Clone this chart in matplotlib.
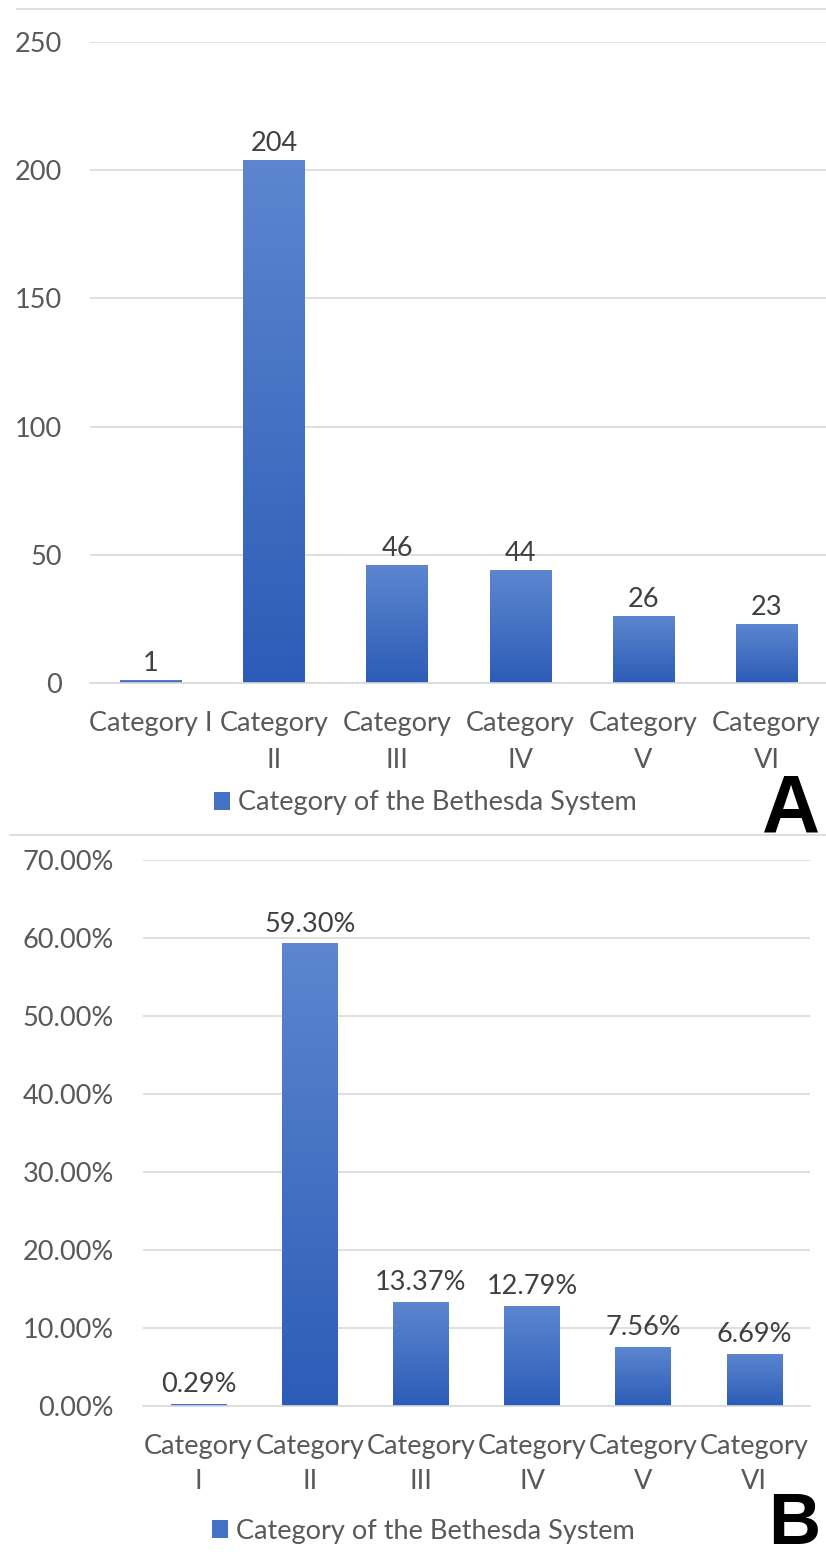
import matplotlib
matplotlib.use("Agg")
import matplotlib.pyplot as plt
import numpy as np
from matplotlib.colors import LinearSegmentedColormap
from matplotlib.patches import Patch
from matplotlib.lines import Line2D
from matplotlib.ticker import FuncFormatter, MultipleLocator

# ---------------- data ----------------
labels_a = ["Category I", "Category\nII", "Category\nIII", "Category\nIV", "Category\nV", "Category\nVI"]
labels_b = ["Category\nI", "Category\nII", "Category\nIII", "Category\nIV", "Category\nV", "Category\nVI"]
counts = [1, 204, 46, 44, 26, 23]
percents = [0.29, 59.30, 13.37, 12.79, 7.56, 6.69]
legend_label = "Category of the Bethesda System"
panel_letters = ["A", "B"]

# ---------------- style ----------------
FONT = ["Lato", "DejaVu Sans"]
plt.rcParams["font.family"] = FONT
TXT = "#595959"
VAL = "#404040"
GRID = "#D9D9D9"
TOP_C = "#5D86CF"
BOT_C = "#2C5CB7"
FS = 19.5
cmap = LinearSegmentedColormap.from_list("bar", [BOT_C, TOP_C])
grad = np.linspace(0, 1, 256).reshape(-1, 1)

W, H = 826, 1560
fig = plt.figure(figsize=(W / 100, H / 100), dpi=100)


def px_axes(x0, x1, ytop, ybot):
    return fig.add_axes([x0 / W, 1 - ybot / H, (x1 - x0) / W, (ybot - ytop) / H])


def gradient_bars(ax, bars):
    for rect in bars:
        x, w, h = rect.get_x(), rect.get_width(), rect.get_height()
        im = ax.imshow(grad, extent=(x, x + w, 0, h), origin="lower", aspect="auto",
                       cmap=cmap, zorder=rect.get_zorder() + 0.1, interpolation="bilinear")
        im.set_clip_path(rect)


def style_axes(ax, pad_y, pad_x, linesp):
    for s in ["top", "right", "left"]:
        ax.spines[s].set_visible(False)
    ax.spines["bottom"].set_color(GRID)
    ax.spines["bottom"].set_linewidth(1.2)
    ax.yaxis.grid(True, color=GRID, linewidth=1.2)
    ax.set_axisbelow(True)
    ax.tick_params(axis="both", length=0, labelsize=FS, labelcolor=TXT)
    ax.tick_params(axis="y", pad=pad_y)
    ax.tick_params(axis="x", pad=pad_x)
    for t in ax.get_xticklabels():
        t.set_linespacing(linesp)


x = np.arange(len(counts))

# ---------------- panel A ----------------
axA = px_axes(89.5, 828, 42, 683)
barsA = axA.bar(x, counts, width=0.5, color="#4472C4", edgecolor="none", zorder=2)
gradient_bars(axA, barsA)
axA.set_xlim(-0.5, 5.5)
axA.set_ylim(0, 250)
axA.yaxis.set_major_locator(MultipleLocator(50))
axA.set_xticks(x)
axA.set_xticklabels(labels_a)
style_axes(axA, 20, 20, 1.62)
axA.bar_label(barsA, labels=[str(v) for v in counts], padding=3, fontsize=FS, color=VAL)
axA.legend(handles=[Patch(facecolor="#4472C4", edgecolor="none")], labels=[legend_label],
           loc="center left", bbox_to_anchor=(214 / W, 1 - 803 / H), bbox_transform=fig.transFigure,
           frameon=False, fontsize=FS, labelcolor=TXT, borderpad=0, borderaxespad=0,
           handlelength=0.6, handleheight=0.6, handletextpad=0.3)

# ---------------- panel B ----------------
axB = px_axes(143, 810, 860, 1406)
barsB = axB.bar(x, percents, width=0.5, color="#4472C4", edgecolor="none", zorder=2)
gradient_bars(axB, barsB)
axB.set_xlim(-0.5, 5.5)
axB.set_ylim(0, 70)
axB.yaxis.set_major_locator(MultipleLocator(10))
axB.yaxis.set_major_formatter(FuncFormatter(lambda v, p: f"{v:.2f}%"))
axB.set_xticks(x)
axB.set_xticklabels(labels_b)
style_axes(axB, 21, 20, 1.5)
axB.bar_label(barsB, labels=[f"{v:.2f}%" for v in percents], padding=5, fontsize=FS, color=VAL)
axB.legend(handles=[Patch(facecolor="#4472C4", edgecolor="none")], labels=[legend_label],
           loc="center left", bbox_to_anchor=(212 / W, 1 - 1531 / H), bbox_transform=fig.transFigure,
           frameon=False, fontsize=FS, labelcolor=TXT, borderpad=0, borderaxespad=0,
           handlelength=0.6, handleheight=0.6, handletextpad=0.3)

# ---------------- frame lines and panel letters ----------------
fig.add_artist(Line2D([17 / W, 1], [1 - 9 / H] * 2, color=GRID, lw=1.2))
fig.add_artist(Line2D([10 / W, 1], [1 - 835 / H] * 2, color=GRID, lw=1.2))
fig.text(820 / W, 1 - 831 / H, panel_letters[0], ha="right", va="baseline", fontsize=58,
         fontweight="bold", family=["Liberation Sans", "DejaVu Sans"], color="black")
fig.text(820 / W, 1 - 1544 / H, panel_letters[1], ha="right", va="baseline", fontsize=52,
         fontweight="bold", family=["Liberation Sans", "DejaVu Sans"], color="black")

fig.savefig("out.png", dpi=100, facecolor="white")
